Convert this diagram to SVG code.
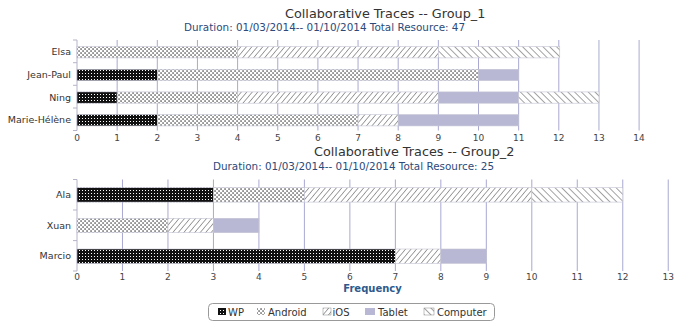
<svg xmlns="http://www.w3.org/2000/svg" width="689" height="327" viewBox="0 0 689 327">
<style>
text{font-family:"DejaVu Sans","Liberation Sans",sans-serif;}
.title{font-size:12.8px;fill:#333;}
.sub{font-size:10.4px;fill:#2c4a7a;}
.cat{font-size:9.5px;fill:#333;text-anchor:end;}
.num{font-size:9px;fill:#444;text-anchor:middle;}
.grid{stroke:#a9a9d2;stroke-width:1;fill:none;}
.axis{stroke:#b4b4c8;stroke-width:1;fill:none;}
.bar{stroke:#c4c4d4;stroke-width:0.6;}
.wp{fill:url(#pWP);}
.an{fill:url(#pAN);}
.ios{fill:url(#pIOS);}
.tab{fill:#b8b8d4;}
.com{fill:url(#pCOM);}
.freq{font-size:10px;font-weight:bold;fill:#2f5a8c;text-anchor:middle;}
.leg{font-size:10px;fill:#333;}
</style>
<defs>
<pattern id="pWP" width="3" height="3" patternUnits="userSpaceOnUse">
<rect width="3" height="3" fill="#111"/>
<rect x="1" y="1" width="1" height="1" fill="#fff"/>
</pattern>
<pattern id="pAN" width="4" height="4" patternUnits="userSpaceOnUse">
<rect width="4" height="4" fill="#fff"/>
<rect x="0.4" y="0.4" width="1.3" height="1.3" fill="#222"/>
<rect x="2.4" y="2.4" width="1.3" height="1.3" fill="#222"/>
</pattern>
<pattern id="pIOS" width="4.2" height="4.2" patternUnits="userSpaceOnUse" patternTransform="rotate(40)">
<rect width="4.2" height="4.2" fill="#fff"/>
<line x1="0" y1="0" x2="0" y2="4.2" stroke="#333" stroke-width="0.9"/>
</pattern>
<pattern id="pCOM" width="4.8" height="4.8" patternUnits="userSpaceOnUse" patternTransform="rotate(-45)">
<rect width="4.8" height="4.8" fill="#fff"/>
<line x1="0" y1="0" x2="0" y2="4.8" stroke="#333" stroke-width="0.9"/>
</pattern>
</defs>
<rect width="689" height="327" fill="#fff"/>

<g id="chart1">
<text class="title" x="285" y="18">Collaborative Traces -- Group_1</text>
<text class="sub" x="184" y="30.5">Duration: 01/03/2014-- 01/10/2014 Total Resource: 47</text>
<g id="grid1" class="grid">
<line x1="117.15" y1="40" x2="117.15" y2="130.5"/>
<line x1="157.3" y1="40" x2="157.3" y2="130.5"/>
<line x1="197.45" y1="40" x2="197.45" y2="130.5"/>
<line x1="237.6" y1="40" x2="237.6" y2="130.5"/>
<line x1="277.75" y1="40" x2="277.75" y2="130.5"/>
<line x1="317.9" y1="40" x2="317.9" y2="130.5"/>
<line x1="358.05" y1="40" x2="358.05" y2="130.5"/>
<line x1="398.2" y1="40" x2="398.2" y2="130.5"/>
<line x1="438.35" y1="40" x2="438.35" y2="130.5"/>
<line x1="478.5" y1="40" x2="478.5" y2="130.5"/>
<line x1="518.65" y1="40" x2="518.65" y2="130.5"/>
<line x1="558.8" y1="40" x2="558.8" y2="130.5"/>
<line x1="598.95" y1="40" x2="598.95" y2="130.5"/>
<line x1="639.1" y1="40" x2="639.1" y2="130.5"/>
</g>
<g id="axis1" class="axis">
<line x1="77" y1="40" x2="77" y2="130.5"/>
<line x1="73" y1="40" x2="77" y2="40"/>
<line x1="73" y1="62.7" x2="77" y2="62.7"/>
<line x1="73" y1="85.3" x2="77" y2="85.3"/>
<line x1="73" y1="108" x2="77" y2="108"/>
<line x1="73" y1="130.5" x2="77" y2="130.5"/>
</g>
<g id="labels1">
<text class="cat" x="71" y="55.3">Elsa</text>
<text class="cat" x="71" y="78">Jean-Paul</text>
<text class="cat" x="71" y="100.6">Ning</text>
<text class="cat" x="71" y="123.3">Marie-Hélène</text>
<text class="num" x="77" y="140.5">0</text>
<text class="num" x="117.15" y="140.5">1</text>
<text class="num" x="157.3" y="140.5">2</text>
<text class="num" x="197.45" y="140.5">3</text>
<text class="num" x="237.6" y="140.5">4</text>
<text class="num" x="277.75" y="140.5">5</text>
<text class="num" x="317.9" y="140.5">6</text>
<text class="num" x="358.05" y="140.5">7</text>
<text class="num" x="398.2" y="140.5">8</text>
<text class="num" x="438.35" y="140.5">9</text>
<text class="num" x="478.5" y="140.5">10</text>
<text class="num" x="518.65" y="140.5">11</text>
<text class="num" x="558.8" y="140.5">12</text>
<text class="num" x="598.95" y="140.5">13</text>
<text class="num" x="639.1" y="140.5">14</text>
</g>
<g id="elsa1">
<rect class="bar an" x="77" y="46.6" width="160.6" height="11.3"/>
<rect class="bar ios" x="237.6" y="46.6" width="200.75" height="11.3"/>
<rect class="bar com" x="438.35" y="46.6" width="121.4" height="11.3"/>
</g>
<g id="jeanpaul1">
<rect class="bar wp" x="77" y="69.3" width="80.3" height="11.3"/>
<rect class="bar an" x="157.3" y="69.3" width="321.2" height="11.3"/>
<rect class="bar tab" x="478.5" y="69.3" width="40.15" height="11.3"/>
</g>
<g id="ning1">
<rect class="bar wp" x="77" y="91.9" width="40.15" height="11.3"/>
<rect class="bar an" x="117.15" y="91.9" width="120.45" height="11.3"/>
<rect class="bar ios" x="237.6" y="91.9" width="200.75" height="11.3"/>
<rect class="bar tab" x="438.35" y="91.9" width="80.3" height="11.3"/>
<rect class="bar com" x="518.65" y="91.9" width="80.3" height="11.3"/>
</g>
<g id="marie1">
<rect class="bar wp" x="77" y="114.6" width="80.3" height="11.3"/>
<rect class="bar an" x="157.3" y="114.6" width="200.75" height="11.3"/>
<rect class="bar ios" x="358.05" y="114.6" width="40.15" height="11.3"/>
<rect class="bar tab" x="398.2" y="114.6" width="120.45" height="11.3"/>
</g>
</g>

<g id="chart2">
<text class="title" x="314" y="156">Collaborative Traces -- Group_2</text>
<text class="sub" x="213" y="169.5">Duration: 01/03/2014-- 01/10/2014 Total Resource: 25</text>
<g id="grid2" class="grid">
<line x1="122.48" y1="179.5" x2="122.48" y2="271"/>
<line x1="167.96" y1="179.5" x2="167.96" y2="271"/>
<line x1="213.44" y1="179.5" x2="213.44" y2="271"/>
<line x1="258.92" y1="179.5" x2="258.92" y2="271"/>
<line x1="304.4" y1="179.5" x2="304.4" y2="271"/>
<line x1="349.88" y1="179.5" x2="349.88" y2="271"/>
<line x1="395.36" y1="179.5" x2="395.36" y2="271"/>
<line x1="440.84" y1="179.5" x2="440.84" y2="271"/>
<line x1="486.32" y1="179.5" x2="486.32" y2="271"/>
<line x1="531.8" y1="179.5" x2="531.8" y2="271"/>
<line x1="577.28" y1="179.5" x2="577.28" y2="271"/>
<line x1="622.76" y1="179.5" x2="622.76" y2="271"/>
<line x1="668.24" y1="179.5" x2="668.24" y2="271"/>
</g>
<g id="axis2" class="axis">
<line x1="77" y1="179.5" x2="77" y2="271"/>
<line x1="73" y1="179.5" x2="77" y2="179.5"/>
<line x1="73" y1="210" x2="77" y2="210"/>
<line x1="73" y1="240.6" x2="77" y2="240.6"/>
<line x1="73" y1="271" x2="77" y2="271"/>
</g>
<g id="labels2">
<text class="cat" x="71" y="198">Ala</text>
<text class="cat" x="71" y="228.8">Xuan</text>
<text class="cat" x="71" y="259.3">Marcio</text>
<text class="num" x="77" y="280">0</text>
<text class="num" x="122.48" y="280">1</text>
<text class="num" x="167.96" y="280">2</text>
<text class="num" x="213.44" y="280">3</text>
<text class="num" x="258.92" y="280">4</text>
<text class="num" x="304.4" y="280">5</text>
<text class="num" x="349.88" y="280">6</text>
<text class="num" x="395.36" y="280">7</text>
<text class="num" x="440.84" y="280">8</text>
<text class="num" x="486.32" y="280">9</text>
<text class="num" x="531.8" y="280">10</text>
<text class="num" x="577.28" y="280">11</text>
<text class="num" x="622.76" y="280">12</text>
<text class="num" x="668.24" y="280">13</text>
<text class="freq" x="372.5" y="292">Frequency</text>
</g>
<g id="ala2">
<rect class="bar wp" x="77" y="187.7" width="136.44" height="14.4"/>
<rect class="bar an" x="213.44" y="187.7" width="90.96" height="14.4"/>
<rect class="bar ios" x="304.4" y="187.7" width="227.4" height="14.4"/>
<rect class="bar com" x="531.8" y="187.7" width="90.96" height="14.4"/>
</g>
<g id="xuan2">
<rect class="bar an" x="77" y="218.3" width="90.96" height="14.4"/>
<rect class="bar ios" x="167.96" y="218.3" width="45.48" height="14.4"/>
<rect class="bar tab" x="213.44" y="218.3" width="45.48" height="14.4"/>
</g>
<g id="marcio2">
<rect class="bar wp" x="77" y="249" width="318.36" height="14.4"/>
<rect class="bar ios" x="395.36" y="249" width="45.48" height="14.4"/>
<rect class="bar tab" x="440.84" y="249" width="45.48" height="14.4"/>
</g>
</g>

<g id="legend">
<rect x="208.5" y="303.5" width="286" height="17" rx="4" fill="#fff" stroke="#999" stroke-width="1"/>
<rect class="wp" x="218" y="308" width="8" height="7"/>
<text class="leg" x="228" y="315.5">WP</text>
<rect class="an" x="257" y="308" width="8" height="7"/>
<text class="leg" x="268" y="315.5">Android</text>
<rect class="ios" x="323" y="308" width="8" height="7" stroke="#888" stroke-width="0.5"/>
<text class="leg" x="332.5" y="315.5">iOS</text>
<rect class="tab" x="365" y="308" width="10" height="7"/>
<text class="leg" x="378" y="315.5">Tablet</text>
<rect class="com" x="424" y="308" width="10" height="7" stroke="#888" stroke-width="0.5"/>
<text class="leg" x="437" y="315.5">Computer</text>
</g>
</svg>
